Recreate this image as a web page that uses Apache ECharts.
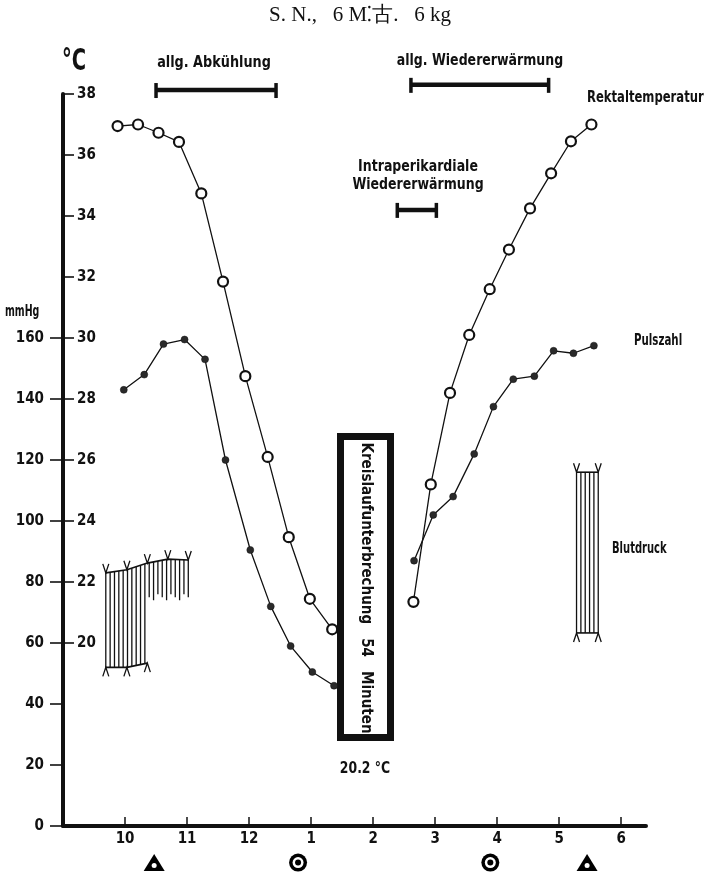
<!DOCTYPE html>
<html><head><meta charset="utf-8">
<script src="https://cdn.jsdelivr.net/npm/echarts@6/dist/echarts.min.js"></script>
<style>html,body{margin:0;padding:0;background:#fff}#c{width:706px;height:878px}</style>
</head><body><div id="c"></div>
<script>
// ---- data (hours of day, 24h clock) ----
const tempTimesPre  = [9.88, 10.21, 10.54, 10.87, 11.23, 11.58, 11.94, 12.30, 12.64, 12.98, 13.34];
const tempPre       = [36.95, 37.0, 36.73, 36.43, 34.74, 31.85, 28.75, 26.1, 23.47, 21.45, 20.45];
const tempTimesPost = [14.65, 14.93, 15.24, 15.55, 15.88, 16.19, 16.53, 16.87, 17.19, 17.52];
const tempPost      = [21.35, 25.2, 28.2, 30.1, 31.6, 32.9, 34.25, 35.4, 36.45, 37.0];
const pulseTimesPre  = [9.98, 10.31, 10.62, 10.96, 11.29, 11.62, 12.02, 12.35, 12.67, 13.02, 13.37];
const pulsePre       = [143, 148, 158, 159.5, 153, 120, 90.5, 72, 59, 50.5, 46];
const pulseTimesPost = [14.66, 14.97, 15.29, 15.63, 15.94, 16.26, 16.60, 16.91, 17.23, 17.56];
const pulsePost      = [87, 102, 108, 122, 137.5, 146.5, 147.5, 155.8, 155, 157.5];
// blood pressure (mmHg)
const bpTimesPre = [9.69, 10.03, 10.36, 10.69, 11.02];
const bpSysPre   = [83, 84, 86.2, 87.5, 87.2];
const bpDiaPre   = [52, 52, 53.4, null, null];
const bpOpenFloor = 75;
const bpTimesPost = [17.28, 17.63];
const bpSysPost   = [116, 116];
const bpDiaPost   = [63.3, 63.3];
// time spans: allg. Abkühlung, allg. Wiedererwärmung, intraperikardiale Wiedererwärmung
const spanStart = [10.50, 14.61, 14.39];
const spanEnd   = [12.435, 16.83, 15.02];
// bottom markers
const triangleTimes = [10.47, 17.45];
const ringTimes = [12.79, 15.89];
// tick labels
const mmHgTicks = [0, 20, 40, 60, 80, 100, 120, 140, 160];
const tempTicks = [20, 22, 24, 26, 28, 30, 32, 34, 36, 38];
const hourTicks = [10, 11, 12, 13, 14, 15, 16, 17, 18];

const FONT = "'DejaVu Sans Condensed',sans-serif";
const chart = echarts.init(document.getElementById('c'), null, {renderer: 'canvas'});

const SPAN_LEVEL = [38.13, 38.3, 34.2]; // drawing level (°C axis) of span bars
const MARK_Y = -12; // below the time axis (mmHg)

function zip(a, b) { return a.map((t, i) => [t, b[i]]); }

function lerpPix(pts, x) {
  for (let i = 0; i < pts.length - 1; i++) {
    const a = pts[i], b = pts[i + 1];
    if (x >= a[0] - 0.01 && x <= b[0] + 0.01) {
      const f = (x - a[0]) / (b[0] - a[0] || 1);
      return a[1] + f * (b[1] - a[1]);
    }
  }
  return pts[pts.length - 1][1];
}

function bpRender(times, sys, dia) {
  return function (params, api) {
    if (params.dataIndex !== 0) return null;
    const top = times.map((t, i) => api.coord([t, sys[i]]));
    const diaPts = [];
    times.forEach((t, i) => { if (dia[i] != null) diaPts.push(api.coord([t, dia[i]])); });
    const floorY = api.coord([times[0], bpOpenFloor])[1];
    const children = [];
    const st = {stroke: '#111', lineWidth: 1.3, fill: null};
    children.push({type: 'polyline', shape: {points: top}, style: Object.assign({}, st, {lineWidth: 1.6})});
    if (diaPts.length > 1) children.push({type: 'polyline', shape: {points: diaPts}, style: Object.assign({}, st, {lineWidth: 1.6})});
    const x0 = top[0][0], x1 = top[top.length - 1][0];
    const n = Math.max(1, Math.round((x1 - x0) / 4.4));
    const lastDiaX = diaPts.length ? diaPts[diaPts.length - 1][0] : -1;
    for (let k = 0; k <= n; k++) {
      const x = x0 + (x1 - x0) * k / n;
      const yt = lerpPix(top, x);
      const yb = (x <= lastDiaX + 0.5 && diaPts.length > 1) ? lerpPix(diaPts, x) : floorY + ((k % 3) - 1) * 3;
      children.push({type: 'line', shape: {x1: x, y1: yt, x2: x, y2: yb}, style: st});
    }
    top.forEach(p => children.push({type: 'polyline', shape: {points: [[p[0] - 3, p[1] - 9], [p[0], p[1]], [p[0] + 3, p[1] - 9]]}, style: st}));
    diaPts.forEach(p => children.push({type: 'polyline', shape: {points: [[p[0] - 3, p[1] + 9], [p[0], p[1]], [p[0] + 3, p[1] + 9]]}, style: st}));
    return {type: 'group', children: children};
  };
}

const lineCommon = {type: 'line', xAxisIndex: 0, symbol: 'circle', animation: false,
  lineStyle: {color: '#111', width: 1.3}, z: 3};

const tempStyle = Object.assign({}, lineCommon, {yAxisIndex: 1, symbolSize: 10,
  itemStyle: {color: '#fff', borderColor: '#111', borderWidth: 2.2, opacity: 1}, z: 4});
const pulseStyle = Object.assign({}, lineCommon, {yAxisIndex: 0, symbolSize: 7,
  itemStyle: {color: '#2a2a2a', borderColor: '#111', borderWidth: 0.5, opacity: 1}});

function mark(name, times, symbol, size, color, z, offset) {
  return {type: 'scatter', name: name, yAxisIndex: 0, clip: false, symbol: symbol, symbolSize: size,
    symbolOffset: offset || [0, 0], itemStyle: {color: color, opacity: 1}, z: z,
    emphasis: {disabled: true}, data: times.map(t => [t, MARK_Y])};
}

function txt(x, y, text, size, opts) {
  return Object.assign({type: 'text', x: x, y: y, z: 20,
    style: Object.assign({text: text, fontFamily: FONT, fontWeight: 'bold', fontSize: size, fill: '#111', verticalAlign: 'middle'}, (opts && opts.style) || {})},
    opts && opts.el || {});
}

const option = {
  backgroundColor: '#fff',
  animation: false,
  grid: {left: 63, right: 60, top: 94, bottom: 52},
  xAxis: {
    type: 'value', min: 9, max: 18.4, interval: 1,
    axisLine: {show: true, lineStyle: {color: '#111', width: 4}},
    axisTick: {show: true, inside: true, length: 9, lineStyle: {color: '#111', width: 1.5}, customValues: hourTicks},
    axisLabel: {show: true, margin: 6, color: '#111', fontFamily: FONT, fontWeight: 'bold', fontSize: 15,
      customValues: hourTicks, formatter: v => String(v > 12 ? v - 12 : v)},
    splitLine: {show: false}
  },
  yAxis: [
    {type: 'value', min: 0, max: 240, interval: 20, position: 'left',
      axisLine: {show: true, onZero: false, lineStyle: {color: '#111', width: 4}},
      axisTick: {show: true, inside: false, length: 13, lineStyle: {color: '#111', width: 1.6}, customValues: mmHgTicks},
      axisLabel: {show: true, margin: 19, color: '#111', fontFamily: FONT, fontWeight: 'bold', fontSize: 15, customValues: mmHgTicks},
      splitLine: {show: false}},
    {type: 'value', min: 14, max: 38, interval: 2, position: 'left',
      axisLine: {show: false},
      axisTick: {show: true, inside: true, length: 11, lineStyle: {color: '#111', width: 1.6}, customValues: tempTicks},
      axisLabel: {show: true, inside: true, margin: 14, color: '#111', fontFamily: FONT, fontWeight: 'bold', fontSize: 15, customValues: tempTicks},
      splitLine: {show: false}}
  ],
  series: [
    Object.assign({}, tempStyle, {name: 'Rektaltemperatur vor', data: zip(tempTimesPre, tempPre)}),
    Object.assign({}, tempStyle, {name: 'Rektaltemperatur nach', data: zip(tempTimesPost, tempPost)}),
    Object.assign({}, pulseStyle, {name: 'Pulszahl vor', data: zip(pulseTimesPre, pulsePre)}),
    Object.assign({}, pulseStyle, {name: 'Pulszahl nach', data: zip(pulseTimesPost, pulsePost)}),
    {type: 'custom', name: 'Blutdruck vor', xAxisIndex: 0, yAxisIndex: 0, clip: false, z: 2,
      data: bpTimesPre.map((t, i) => [t, bpSysPre[i], bpDiaPre[i]]),
      renderItem: bpRender(bpTimesPre, bpSysPre, bpDiaPre)},
    {type: 'custom', name: 'Blutdruck nach', xAxisIndex: 0, yAxisIndex: 0, clip: false, z: 2,
      data: bpTimesPost.map((t, i) => [t, bpSysPost[i], bpDiaPost[i]]),
      renderItem: bpRender(bpTimesPost, bpSysPost, bpDiaPost)},
    {type: 'custom', name: 'Phasen', xAxisIndex: 0, yAxisIndex: 1, clip: false, z: 2,
      data: spanStart.map((s, i) => [s, spanEnd[i]]),
      renderItem: function (params, api) {
        const lv = SPAN_LEVEL[params.dataIndex];
        const a = api.coord([api.value(0), lv]), b = api.coord([api.value(1), lv]);
        const st = {stroke: '#111', lineWidth: 4.5};
        return {type: 'group', children: [
          {type: 'line', shape: {x1: a[0], y1: a[1], x2: b[0], y2: b[1]}, style: st},
          {type: 'line', shape: {x1: a[0], y1: a[1] - 7, x2: a[0], y2: a[1] + 8}, style: {stroke: '#111', lineWidth: 3.5}},
          {type: 'line', shape: {x1: b[0], y1: b[1] - 7, x2: b[0], y2: b[1] + 8}, style: {stroke: '#111', lineWidth: 3.5}}
        ]};
      }},
    mark('Dreieck', triangleTimes, 'triangle', [21, 17], '#000', 5),
    mark('Dreieck Punkt', triangleTimes, 'circle', 5, '#fff', 6, [0, 3]),
    mark('Ring', ringTimes, 'circle', 18, '#000', 5),
    mark('Ring innen', ringTimes, 'circle', 11, '#fff', 6),
    mark('Ring Punkt', ringTimes, 'circle', 6, '#000', 7)
  ],
  graphic: [
    {type: 'text', x: 360, y: 15, z: 20, style: {text: 'S. N.,   6 M\u205A古.   6 kg', fontFamily: "'Liberation Serif','DejaVu Serif',serif", fontSize: 21, fill: '#111', align: 'center', verticalAlign: 'middle'}},
    txt(62, 62, '°C', 31, {el: {scaleX: 0.7}}),
    txt(5, 312, 'mmHg', 15, {el: {scaleX: 0.7}}),
    txt(214, 63, 'allg. Abkühlung', 15.5, {el: {scaleX: 0.92}, style: {align: 'center'}}),
    txt(480, 61, 'allg. Wiedererwärmung', 15.5, {el: {scaleX: 0.9}, style: {align: 'center'}}),
    txt(418, 167, 'Intraperikardiale', 15.5, {el: {scaleX: 0.9}, style: {align: 'center'}}),
    txt(418, 185, 'Wiedererwärmung', 15.5, {el: {scaleX: 0.9}, style: {align: 'center'}}),
    txt(587, 98, 'Rektaltemperatur', 15, {el: {scaleX: 0.86}}),
    txt(634, 341, 'Pulszahl', 15, {el: {scaleX: 0.76}}),
    txt(612, 549, 'Blutdruck', 15, {el: {scaleX: 0.74}}),
    txt(365, 769, '20.2 °C', 15, {el: {scaleX: 0.92}, style: {align: 'center'}}),
    {type: 'rect', z: 1, shape: {x: 340.5, y: 436.5, width: 50, height: 301}, style: {fill: '#fff', stroke: '#111', lineWidth: 7}},
    txt(365.5, 588, 'Kreislaufunterbrechung   54   Minuten', 15, {el: {rotation: -Math.PI / 2}, style: {align: 'center'}})
  ]
};
chart.setOption(option);
</script></body></html>
